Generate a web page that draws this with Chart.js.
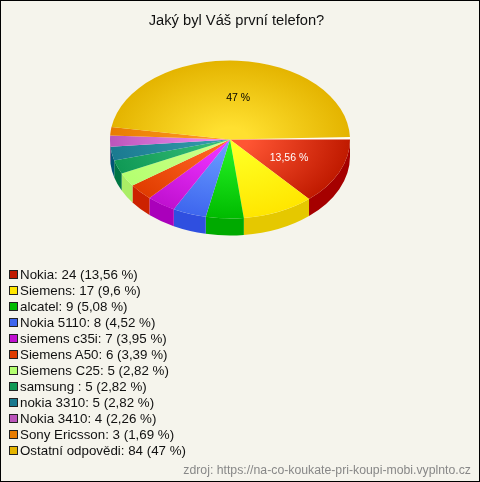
<!DOCTYPE html>
<html>
<head>
<meta charset="utf-8">
<title>Jaký byl Váš první telefon?</title>
<script src="https://cdn.jsdelivr.net/npm/chart.js@4/dist/chart.umd.min.js"></script>
<style>
    html, body { margin: 0; padding: 0; background: #f5f4ec; }
    #frame { position: relative; width: 480px; height: 482px; box-sizing: border-box; border: 1px solid #000; overflow: hidden; font-family: "Liberation Sans", Arial, sans-serif; }
    #pie { position: absolute; left: -1px; top: -1px; }
    #legend { position: absolute; left: 8px; top: 266px; }
    .row { height: 16px; line-height: 16px; font-size: 13.33px; color: #111; white-space: nowrap; }
    .box { display: inline-block; width: 7px; height: 7px; border: 1px solid #222; margin-right: 2px; vertical-align: 0px; }
    #source { position: absolute; right: 8px; top: 462px; font-size: 12.27px; color: #888; white-space: nowrap; }
</style>
</head>
<body>
<div id="frame">
    <canvas id="pie" width="480" height="482"></canvas>
    <div id="legend"></div>
    <div id="source">zdroj: https://na-co-koukate-pri-koupi-mobi.vyplnto.cz</div>
</div>
<script>
const categories = ["Nokia", "Siemens", "alcatel", "Nokia 5110", "siemens c35i", "Siemens A50", "Siemens C25", "samsung ", "nokia 3310", "Nokia 3410", "Sony Ericsson", "Ostatní odpovědi"];
const counts = [24, 17, 9, 8, 7, 6, 5, 5, 5, 4, 3, 84];
const percents = [13.56, 9.6, 5.08, 4.52, 3.95, 3.39, 2.82, 2.82, 2.82, 2.26, 1.69, 47];

const edgeColors = ["#c01a00", "#ffe600", "#00bb00", "#3e66ee", "#c010d0", "#e03c00", "#b4ff70", "#109955", "#1a7a90", "#bb55bb", "#e87c00", "#e4b400"];
const centerColors = ["#ff5533", "#ffff22", "#22ee22", "#6699ff", "#ee33ff", "#ff6622", "#ccff88", "#33bb77", "#3399aa", "#ee88ee", "#ff9922", "#ffe030"];
const sideColors = ["#a50000", "#e5c800", "#00aa00", "#2f4fe0", "#aa00bb", "#cc2200", "#aaee66", "#007744", "#005577", "#883388", "#bb5500", "#bb9000"];

// the pie is a flat chart squashed into an ellipse, side wall added by hand
const CENTER_Y = 139.5;
const SQUASH = 0.658;
const DEPTH = 17;
// title sits a bit right of the pie, chart area is centred on the title
const PIE_SHIFT = -6.5;

const fmt = v => String(v).replace('.', ',');

function sliceFill(c) {
    const area = c.chart.chartArea;
    if (!area) return edgeColors[c.dataIndex];
    const x = (area.left + area.right) / 2, y = (area.top + area.bottom) / 2;
    const g = c.chart.ctx.createRadialGradient(x, y, 0, x, y, area.width / 2);
    g.addColorStop(0, centerColors[c.dataIndex]);
    g.addColorStop(0.15, centerColors[c.dataIndex]);
    g.addColorStop(1, edgeColors[c.dataIndex]);
    return g;
}

const pie3d = {
    id: 'pie3d',
    beforeDatasetsDraw(chart) {
        const ctx = chart.ctx;
        const arcs = chart.getDatasetMeta(0).data;
        const cx = arcs[0].x + PIE_SHIFT, r = arcs[0].outerRadius, ry = r * SQUASH;

        // side wall, only the front half is visible
        arcs.forEach((arc, i) => {
            const a0 = Math.max(arc.startAngle, 0), a1 = Math.min(arc.endAngle, Math.PI);
            if (a1 <= a0) return;
            ctx.beginPath();
            ctx.ellipse(cx, CENTER_Y + DEPTH, r, ry, 0, a0, a1);
            ctx.ellipse(cx, CENTER_Y, r, ry, 0, a1, a0, true);
            ctx.closePath();
            ctx.fillStyle = sideColors[i];
            ctx.fill();
        });

        // percentages add up to less than 100, the rest stays as a pale gap
        ctx.beginPath();
        ctx.moveTo(cx, CENTER_Y);
        ctx.ellipse(cx, CENTER_Y, r, ry, 0, arcs[arcs.length - 1].endAngle, arcs[0].startAngle + Math.PI * 2);
        ctx.closePath();
        ctx.fillStyle = '#fffef4';
        ctx.fill();

        ctx.save();
        ctx.translate(PIE_SHIFT, CENTER_Y);
        ctx.scale(1, SQUASH);
        ctx.translate(0, -arcs[0].y);
    },
    afterDatasetsDraw(chart) {
        const ctx = chart.ctx;
        ctx.restore();

        const arcs = chart.getDatasetMeta(0).data;
        ctx.font = '10.5px "Liberation Sans", Arial, sans-serif';
        ctx.textAlign = 'center';
        ctx.textBaseline = 'middle';
        arcs.forEach((arc, i) => {
            if (percents[i] < 10) return;
            const mid = (arc.startAngle + arc.endAngle) / 2;
            let x = arc.x + PIE_SHIFT + arc.outerRadius * 0.54 * Math.cos(mid);
            const y = CENTER_Y + 1 + arc.outerRadius * SQUASH * 0.54 * Math.sin(mid);
            if (i === arcs.length - 1) x += 4;
            ctx.fillStyle = i === 0 ? '#fff' : '#000';
            ctx.fillText(fmt(percents[i]) + ' %', x, y);
        });
    }
};

function initChart() {
    new Chart(document.getElementById('pie'), {
        type: 'pie',
        data: {
            labels: categories,
            datasets: [{
                data: percents,
                backgroundColor: sliceFill,
                borderWidth: 0
            }]
        },
        options: {
            responsive: false,
            animation: false,
            rotation: 90,
            circumference: 360 * percents.reduce((a, b) => a + b, 0) / 100,
            layout: { padding: { left: 116.5, right: 123.5, top: 0, bottom: 190 } },
            plugins: {
                legend: { display: false },
                tooltip: { enabled: false },
                title: {
                    display: true,
                    text: 'Jaký byl Váš první telefon?',
                    color: '#111',
                    font: { family: '"Liberation Sans", Arial, sans-serif', size: 14.7, weight: 'normal' },
                    padding: { top: 12, bottom: 10 }
                }
            }
        },
        plugins: [pie3d]
    });
}

function initLegend() {
    const list = document.getElementById('legend');
    list.innerHTML = categories.map((name, i) => `
        <div class="row"><span class="box" style="background:${edgeColors[i]}"></span>${name}: ${counts[i]} (${fmt(percents[i])} %)</div>
    `).join('');
}

document.addEventListener('DOMContentLoaded', () => {
    initLegend();
    initChart();
});
</script>
</body>
</html>
